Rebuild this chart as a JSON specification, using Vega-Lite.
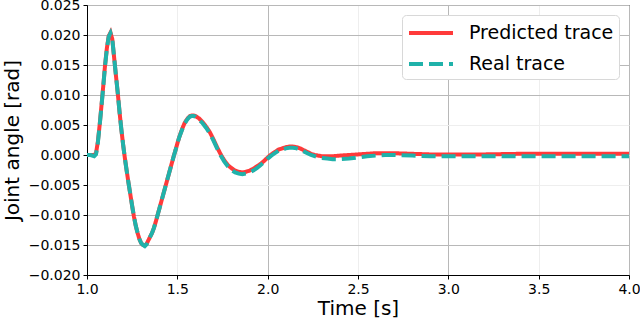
{
  "$schema": "https://vega.github.io/schema/vega-lite/v6.json",
  "width": 542,
  "height": 270,
  "autosize": {"type": "none"},
  "padding": {"left": 87, "top": 5, "right": 11, "bottom": 44},
  "background": "white",
  "config": {
    "font": "DejaVu Sans",
    "view": {"stroke": "black", "strokeWidth": 1},
    "axis": {
      "domainColor": "black",
      "domainWidth": 1,
      "tickColor": "black",
      "tickSize": 4,
      "labelFont": "DejaVu Sans",
      "labelFontSize": 14,
      "labelColor": "black",
      "labelFlush": false,
      "labelOverlap": false,
      "titleFont": "DejaVu Sans",
      "titleFontSize": 20,
      "titleFontWeight": "normal",
      "titleColor": "black"
    }
  },
  "data": {
    "values": [
      {"t": 1.00, "Predicted trace": 0.0000, "Real trace": 0.0000},
      {"t": 1.02, "Predicted trace": 0.0000, "Real trace": 0.0000},
      {"t": 1.04, "Predicted trace": 0.0000, "Real trace": -0.0002},
      {"t": 1.05, "Predicted trace": 0.0003, "Real trace": 0.0001},
      {"t": 1.06, "Predicted trace": 0.0022, "Real trace": 0.0020},
      {"t": 1.07, "Predicted trace": 0.0050, "Real trace": 0.0049},
      {"t": 1.08, "Predicted trace": 0.0082, "Real trace": 0.0081},
      {"t": 1.09, "Predicted trace": 0.0115, "Real trace": 0.0114},
      {"t": 1.10, "Predicted trace": 0.0150, "Real trace": 0.0149},
      {"t": 1.11, "Predicted trace": 0.0178, "Real trace": 0.0177},
      {"t": 1.12, "Predicted trace": 0.0198, "Real trace": 0.0197},
      {"t": 1.13, "Predicted trace": 0.0204, "Real trace": 0.0203},
      {"t": 1.14, "Predicted trace": 0.0193, "Real trace": 0.0193},
      {"t": 1.15, "Predicted trace": 0.0163, "Real trace": 0.0163},
      {"t": 1.16, "Predicted trace": 0.0133, "Real trace": 0.0133},
      {"t": 1.17, "Predicted trace": 0.0104, "Real trace": 0.0104},
      {"t": 1.18, "Predicted trace": 0.0072, "Real trace": 0.0072},
      {"t": 1.19, "Predicted trace": 0.0043, "Real trace": 0.0043},
      {"t": 1.20, "Predicted trace": 0.0017, "Real trace": 0.0017},
      {"t": 1.21, "Predicted trace": -0.0006, "Real trace": -0.0006},
      {"t": 1.22, "Predicted trace": -0.0027, "Real trace": -0.0027},
      {"t": 1.23, "Predicted trace": -0.0047, "Real trace": -0.0047},
      {"t": 1.24, "Predicted trace": -0.0066, "Real trace": -0.0066},
      {"t": 1.25, "Predicted trace": -0.0085, "Real trace": -0.0085},
      {"t": 1.26, "Predicted trace": -0.0103, "Real trace": -0.0103},
      {"t": 1.27, "Predicted trace": -0.0118, "Real trace": -0.0118},
      {"t": 1.28, "Predicted trace": -0.0130, "Real trace": -0.0130},
      {"t": 1.29, "Predicted trace": -0.0140, "Real trace": -0.0140},
      {"t": 1.30, "Predicted trace": -0.0147, "Real trace": -0.0147},
      {"t": 1.31, "Predicted trace": -0.0150, "Real trace": -0.0150},
      {"t": 1.32, "Predicted trace": -0.0151, "Real trace": -0.0152},
      {"t": 1.33, "Predicted trace": -0.0148, "Real trace": -0.0149},
      {"t": 1.34, "Predicted trace": -0.0142, "Real trace": -0.0143},
      {"t": 1.35, "Predicted trace": -0.0136, "Real trace": -0.0136},
      {"t": 1.36, "Predicted trace": -0.0130, "Real trace": -0.0130},
      {"t": 1.37, "Predicted trace": -0.0122, "Real trace": -0.0122},
      {"t": 1.38, "Predicted trace": -0.0112, "Real trace": -0.0112},
      {"t": 1.39, "Predicted trace": -0.0101, "Real trace": -0.0101},
      {"t": 1.40, "Predicted trace": -0.0090, "Real trace": -0.0090},
      {"t": 1.41, "Predicted trace": -0.0079, "Real trace": -0.0079},
      {"t": 1.42, "Predicted trace": -0.0068, "Real trace": -0.0068},
      {"t": 1.43, "Predicted trace": -0.0057, "Real trace": -0.0057},
      {"t": 1.44, "Predicted trace": -0.0046, "Real trace": -0.0046},
      {"t": 1.45, "Predicted trace": -0.0035, "Real trace": -0.0035},
      {"t": 1.46, "Predicted trace": -0.0024, "Real trace": -0.0024},
      {"t": 1.47, "Predicted trace": -0.0013, "Real trace": -0.0013},
      {"t": 1.48, "Predicted trace": -0.0002, "Real trace": -0.0002},
      {"t": 1.49, "Predicted trace": 0.0008, "Real trace": 0.0008},
      {"t": 1.50, "Predicted trace": 0.0019, "Real trace": 0.0019},
      {"t": 1.51, "Predicted trace": 0.0029, "Real trace": 0.0029},
      {"t": 1.52, "Predicted trace": 0.0038, "Real trace": 0.0037},
      {"t": 1.53, "Predicted trace": 0.0046, "Real trace": 0.0045},
      {"t": 1.54, "Predicted trace": 0.0053, "Real trace": 0.0052},
      {"t": 1.55, "Predicted trace": 0.0058, "Real trace": 0.0057},
      {"t": 1.56, "Predicted trace": 0.0062, "Real trace": 0.0061},
      {"t": 1.57, "Predicted trace": 0.0065, "Real trace": 0.0064},
      {"t": 1.58, "Predicted trace": 0.0066, "Real trace": 0.0065},
      {"t": 1.59, "Predicted trace": 0.0066, "Real trace": 0.0065},
      {"t": 1.60, "Predicted trace": 0.0065, "Real trace": 0.0064},
      {"t": 1.62, "Predicted trace": 0.0061, "Real trace": 0.0059},
      {"t": 1.64, "Predicted trace": 0.0055, "Real trace": 0.0053},
      {"t": 1.66, "Predicted trace": 0.0047, "Real trace": 0.0045},
      {"t": 1.68, "Predicted trace": 0.0038, "Real trace": 0.0036},
      {"t": 1.70, "Predicted trace": 0.0026, "Real trace": 0.0024},
      {"t": 1.72, "Predicted trace": 0.0013, "Real trace": 0.0011},
      {"t": 1.74, "Predicted trace": 0.0001, "Real trace": -0.0001},
      {"t": 1.76, "Predicted trace": -0.0009, "Real trace": -0.0011},
      {"t": 1.78, "Predicted trace": -0.0017, "Real trace": -0.0019},
      {"t": 1.80, "Predicted trace": -0.0022, "Real trace": -0.0025},
      {"t": 1.82, "Predicted trace": -0.0026, "Real trace": -0.0029},
      {"t": 1.84, "Predicted trace": -0.0028, "Real trace": -0.0031},
      {"t": 1.86, "Predicted trace": -0.0029, "Real trace": -0.0032},
      {"t": 1.88, "Predicted trace": -0.0028, "Real trace": -0.0031},
      {"t": 1.90, "Predicted trace": -0.0026, "Real trace": -0.0029},
      {"t": 1.92, "Predicted trace": -0.0023, "Real trace": -0.0026},
      {"t": 1.94, "Predicted trace": -0.0019, "Real trace": -0.0022},
      {"t": 1.96, "Predicted trace": -0.0015, "Real trace": -0.0017},
      {"t": 1.98, "Predicted trace": -0.0010, "Real trace": -0.0012},
      {"t": 2.00, "Predicted trace": -0.0004, "Real trace": -0.0006},
      {"t": 2.02, "Predicted trace": 0.0001, "Real trace": -0.0001},
      {"t": 2.04, "Predicted trace": 0.0005, "Real trace": 0.0003},
      {"t": 2.06, "Predicted trace": 0.0009, "Real trace": 0.0007},
      {"t": 2.08, "Predicted trace": 0.0011, "Real trace": 0.0009},
      {"t": 2.10, "Predicted trace": 0.0013, "Real trace": 0.0011},
      {"t": 2.12, "Predicted trace": 0.0014, "Real trace": 0.0012},
      {"t": 2.14, "Predicted trace": 0.0014, "Real trace": 0.0012},
      {"t": 2.16, "Predicted trace": 0.0013, "Real trace": 0.0011},
      {"t": 2.18, "Predicted trace": 0.0011, "Real trace": 0.0009},
      {"t": 2.20, "Predicted trace": 0.0008, "Real trace": 0.0006},
      {"t": 2.22, "Predicted trace": 0.0005, "Real trace": 0.0003},
      {"t": 2.24, "Predicted trace": 0.0002, "Real trace": 0.0000},
      {"t": 2.26, "Predicted trace": 0.0000, "Real trace": -0.0002},
      {"t": 2.28, "Predicted trace": -0.0001, "Real trace": -0.0004},
      {"t": 2.30, "Predicted trace": -0.0002, "Real trace": -0.0005},
      {"t": 2.33, "Predicted trace": -0.0002, "Real trace": -0.0006},
      {"t": 2.36, "Predicted trace": -0.0002, "Real trace": -0.0007},
      {"t": 2.40, "Predicted trace": -0.0001, "Real trace": -0.0007},
      {"t": 2.45, "Predicted trace": 0.0000, "Real trace": -0.0006},
      {"t": 2.50, "Predicted trace": 0.0001, "Real trace": -0.0004},
      {"t": 2.55, "Predicted trace": 0.0002, "Real trace": -0.0002},
      {"t": 2.60, "Predicted trace": 0.0003, "Real trace": -0.0001},
      {"t": 2.65, "Predicted trace": 0.0003, "Real trace": 0.0000},
      {"t": 2.70, "Predicted trace": 0.0003, "Real trace": -0.0000},
      {"t": 2.80, "Predicted trace": 0.0002, "Real trace": -0.0001},
      {"t": 2.90, "Predicted trace": 0.0001, "Real trace": -0.0002},
      {"t": 3.00, "Predicted trace": 0.0001, "Real trace": -0.0002},
      {"t": 3.20, "Predicted trace": 0.0001, "Real trace": -0.0002},
      {"t": 3.40, "Predicted trace": 0.0002, "Real trace": -0.0002},
      {"t": 3.60, "Predicted trace": 0.0002, "Real trace": -0.0002},
      {"t": 3.80, "Predicted trace": 0.0002, "Real trace": -0.0002},
      {"t": 4.00, "Predicted trace": 0.0002, "Real trace": -0.0002}
    ]
  },
  "transform": [
    {"fold": ["Predicted trace", "Real trace"], "as": ["series", "value"]}
  ],
  "mark": {"type": "line", "strokeWidth": 4, "clip": true},
  "encoding": {
    "x": {
      "field": "t",
      "type": "quantitative",
      "scale": {"domain": [1, 4], "nice": false, "zero": false},
      "axis": {
        "title": "Time [s]",
        "values": [1, 1.5, 2, 2.5, 3, 3.5, 4],
        "format": ".1f",
        "labelPadding": 3,
        "titlePadding": 2,
        "gridColor": {"condition": {"test": "abs(datum.value - round(datum.value)) < 0.01", "value": "#b8b8b8"}, "value": "#eeeeee"}
      }
    },
    "y": {
      "field": "value",
      "type": "quantitative",
      "scale": {"domain": [-0.02, 0.025], "nice": false, "zero": false},
      "axis": {
        "title": "Joint angle [rad]",
        "values": [-0.02, -0.015, -0.01, -0.005, 0, 0.005, 0.01, 0.015, 0.02, 0.025],
        "format": ".3f",
        "labelPadding": 3,
        "titlePadding": 6,
        "gridColor": {"condition": {"test": "abs(datum.value) > 0.0075", "value": "#b8b8b8"}, "value": "#eeeeee"}
      }
    },
    "color": {
      "field": "series",
      "type": "nominal",
      "scale": {"domain": ["Predicted trace", "Real trace"], "range": ["#ff3a3a", "#20b2aa"]},
      "legend": {
        "title": null,
        "orient": "top-right",
        "offset": 10,
        "fillColor": "white",
        "strokeColor": "#d8d8d8",
        "cornerRadius": 4,
        "padding": 5,
        "labelFontSize": 19,
        "labelFont": "DejaVu Sans",
        "labelColor": "black",
        "symbolType": "M-1,0L3,0",
        "symbolSize": 484,
        "symbolStrokeWidth": 4,
        "labelOffset": 36,
        "rowPadding": 8
      }
    },
    "strokeDash": {
      "field": "series",
      "type": "nominal",
      "scale": {"domain": ["Predicted trace", "Real trace"], "range": [[1, 0], [14, 6]]},
      "legend": null
    }
  }
}
